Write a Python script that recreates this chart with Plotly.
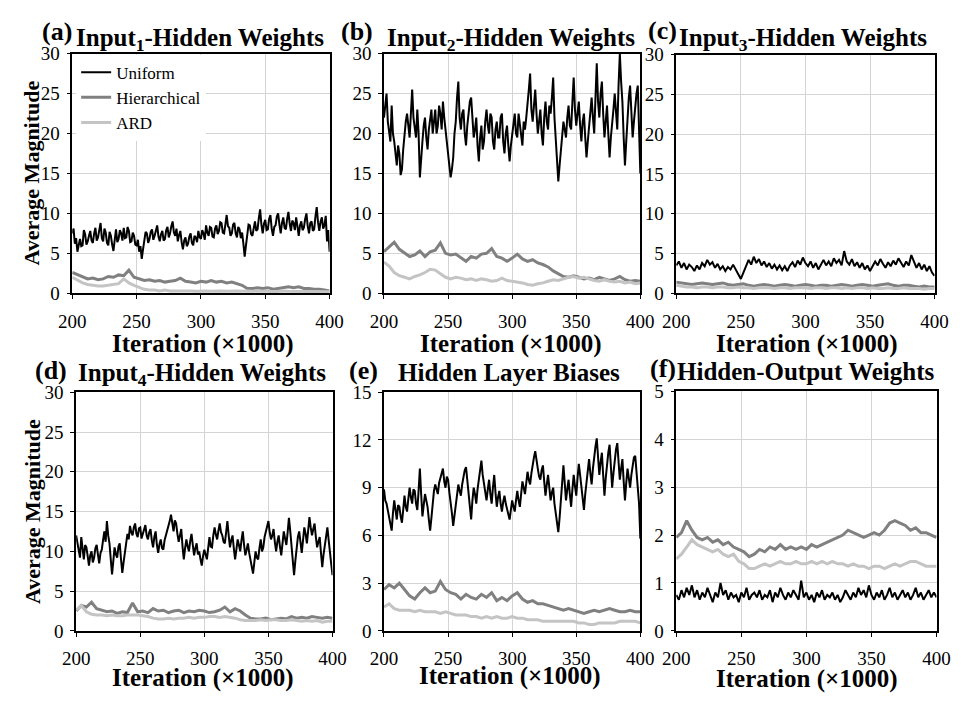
import plotly.graph_objects as go

# ---------------- data ----------------
iter_1k = list(range(200, 401, 1))       # iteration (x1000), dense Uniform series
iter_2k = list(range(200, 401, 2))       # iteration (x1000)
iter_4k = list(range(200, 401, 4))       # iteration (x1000), smoother series
x_ticks = [200, 250, 300, 350, 400]
series_names = ["Uniform", "Hierarchical", "ARD"]

a_uniform = [7.5, 8.1, 6.2, 6.9, 5.2, 6.0, 6.8, 5.9, 6.0, 7.9, 7.4, 6.1, 6.5, 7.2, 7.8, 6.6, 6.3, 7.5, 8.2, 6.6,
             7.0, 7.9, 8.8, 6.9, 6.5, 8.1, 7.6, 6.3, 6.0, 7.7, 7.2, 6.1, 5.3, 6.7, 8.0, 6.4, 6.8, 7.9, 7.5, 6.6,
             8.2, 6.9, 7.0, 8.3, 7.8, 6.4, 6.5, 7.6, 7.2, 6.1, 6.0, 6.7, 5.2, 5.9, 4.3, 5.5, 6.5, 7.7, 7.5, 6.3,
             6.8, 7.7, 8.0, 6.7, 7.2, 8.0, 8.5, 7.1, 6.5, 7.4, 7.8, 6.6, 6.8, 7.9, 8.3, 7.0, 7.5, 8.4, 9.0, 7.6,
             7.2, 8.1, 6.5, 7.3, 7.8, 6.4, 5.5, 6.6, 7.0, 5.9, 6.2, 7.1, 7.5, 6.3, 6.0, 7.2, 7.0, 6.4, 7.8, 7.0,
             6.8, 7.9, 7.5, 6.7, 8.5, 7.6, 7.2, 8.3, 8.2, 7.1, 7.0, 8.1, 8.5, 7.4, 7.8, 8.9, 8.8, 7.6, 7.5, 8.6,
             9.8, 8.4, 8.2, 7.2, 7.5, 8.6, 8.8, 7.5, 7.0, 8.3, 8.0, 6.9, 7.6, 6.2, 4.6, 6.0, 7.5, 8.6, 8.5, 7.4,
             7.2, 8.4, 9.0, 7.8, 8.0, 9.4, 10.5, 8.6, 7.5, 8.7, 9.2, 7.9, 8.0, 9.3, 9.8, 8.1, 7.2, 8.3, 8.5, 9.6,
             10.0, 8.6, 7.5, 8.8, 9.5, 8.2, 8.0, 9.3, 10.2, 8.7, 7.8, 9.1, 8.8, 7.9, 9.5, 8.4, 7.2, 8.5, 9.0, 7.9,
             8.2, 9.3, 10.0, 8.4, 7.5, 8.8, 9.0, 7.8, 8.0, 9.6, 10.8, 8.9, 7.8, 9.0, 9.5, 8.1, 8.5, 9.7, 6.5, 7.9,
             5.2]
a_hier = [2.6, 2.3, 2.0, 1.8, 1.9, 1.7, 1.8, 2.1, 2.0, 2.3,
          2.2, 2.9, 2.0, 1.8, 1.6, 1.7, 1.5, 1.6, 1.4, 1.5,
          1.6, 1.9, 1.5, 1.4, 1.3, 1.5, 1.4, 1.6, 1.4, 1.5,
          1.3, 1.4, 1.2, 1.0, 0.6, 0.6, 0.7, 0.6, 0.7, 0.5,
          0.6, 0.7, 0.8, 0.7, 0.8, 0.6, 0.6, 0.5, 0.5, 0.4, 0.3]
a_ard = [2.0, 1.6, 1.3, 1.1, 1.0, 0.9, 0.9, 1.0, 1.1, 1.2,
         1.8, 1.3, 1.0, 0.7, 0.5, 0.4, 0.4, 0.3, 0.4, 0.3,
         0.3, 0.35, 0.3, 0.3, 0.25, 0.3, 0.3, 0.25, 0.3, 0.3,
         0.25, 0.3, 0.3, 0.25, 0.3, 0.25, 0.25, 0.3, 0.25, 0.2,
         0.25, 0.3, 0.25, 0.25, 0.2, 0.25, 0.2, 0.2, 0.25, 0.2, 0.2]

b_uniform = [22.0, 24.0, 25.0, 21.5, 20.5, 19.0, 23.5, 20.0, 19.0, 17.5, 16.0, 18.5, 17.5, 14.8, 15.5, 18.0, 20.0, 21.5, 22.5, 20.5,
             19.5, 22.5, 25.5, 22.0, 21.0, 19.5, 23.0, 20.0, 14.5, 17.5, 19.0, 21.0, 22.0, 19.5, 18.0, 20.5, 21.5, 23.0, 20.0, 21.5,
             23.0, 20.0, 21.0, 23.5, 22.5, 20.5, 24.0, 22.0, 20.5, 19.0, 18.0, 16.0, 14.5, 15.5, 17.0, 20.0, 21.5, 24.5, 26.5, 22.0,
             20.5, 22.5, 23.0, 20.0, 18.5, 21.0, 22.5, 24.0, 24.5, 21.0, 19.5, 20.5, 22.0, 18.5, 16.5, 19.5, 21.0, 18.0, 19.0, 21.5,
             23.0, 21.0, 20.0, 22.5, 22.0, 19.0, 18.0, 20.5, 21.5, 19.5, 19.5, 22.0, 22.5, 19.0, 17.5, 20.0, 21.0, 18.5, 16.5, 18.5,
             20.0, 21.5, 22.5, 20.0, 19.5, 22.5, 21.0, 19.5, 18.5, 21.5, 20.5, 22.0, 23.5, 25.5, 27.5, 23.0, 21.5, 24.0, 25.5, 22.5,
             20.0, 21.5, 23.0, 20.0, 18.5, 22.0, 24.0, 21.5, 20.5, 23.5, 22.5, 24.5, 27.0, 22.0, 19.5, 16.5, 14.0, 16.0, 18.0, 20.0,
             21.5, 20.5, 19.5, 22.0, 23.5, 21.0, 20.5, 24.0, 27.0, 23.0, 21.0, 22.5, 24.0, 21.0, 19.0, 21.5, 22.5, 19.5, 17.0, 19.0,
             21.0, 23.0, 24.5, 22.0, 20.0, 24.5, 28.8, 24.0, 22.0, 25.0, 26.5, 22.5, 19.5, 21.5, 23.5, 20.0, 17.0, 19.5, 21.0, 23.0,
             25.0, 22.5, 20.5, 26.0, 30.0, 26.5, 24.0, 19.5, 16.0, 19.0, 22.0, 24.5, 26.0, 22.0, 19.5, 21.5, 23.5, 25.0, 26.0, 21.0,
             15.0]
b_hier = [5.2, 5.8, 6.4, 5.5, 5.0, 4.6, 4.8, 5.3, 4.6, 5.2,
          5.4, 6.3, 5.0, 4.8, 4.9, 4.5, 4.0, 4.6, 4.4, 4.9,
          5.0, 5.6, 4.6, 4.4, 4.0, 4.4, 4.9, 4.3, 4.0, 4.2,
          3.8, 3.6, 3.3, 2.8, 2.4, 2.1, 2.0, 2.2, 2.0, 1.8,
          1.9, 1.7, 2.0, 1.8, 1.6, 1.8, 2.1, 1.7, 1.5, 1.6, 1.5]
b_ard = [3.9, 3.4, 2.6, 2.2, 2.0, 1.8, 2.1, 2.3, 2.6, 3.0,
         2.9, 2.4, 2.0, 1.8, 2.0, 1.9, 1.7, 1.8, 1.6, 1.8,
         1.7, 1.5, 1.6, 1.9, 1.6, 1.5, 1.4, 1.3, 1.1, 1.0,
         1.2, 1.3, 1.5, 1.7, 1.6, 1.8, 2.0, 2.1, 1.9, 2.0,
         1.8, 1.6, 1.5, 1.7, 1.5, 1.4, 1.5, 1.3, 1.4, 1.2, 1.3]

c_uniform = [3.5, 4.0, 3.2, 3.8, 3.0, 3.6, 3.3, 2.8, 3.5, 3.0, 3.8,
             3.4, 4.2, 3.6, 3.9, 3.2, 3.7, 3.0, 3.4, 2.8, 3.3,
             3.0, 3.6, 2.9, 2.4, 1.8, 2.6, 3.4, 4.2, 3.6, 4.6,
             3.8, 4.3, 3.5, 4.0, 3.3, 3.8, 3.1, 3.6, 3.0, 3.5,
             2.9, 3.4, 2.8, 3.5, 3.9, 3.3, 4.1, 3.6, 4.5, 3.8,
             3.4, 4.0, 3.2, 3.8, 3.0, 3.6, 4.2, 3.5, 4.0, 3.4,
             4.4, 3.8, 4.2, 3.5, 5.3, 4.0, 3.6, 4.3, 3.4, 3.9,
             3.2, 3.8, 3.0, 3.5, 2.8, 3.4, 4.0, 3.5, 4.3, 3.7,
             3.2, 3.9, 3.4, 4.1, 3.6, 4.4, 3.8, 3.3, 4.0, 3.5,
             4.8, 3.9, 3.2, 3.8, 3.0, 3.6, 2.8, 3.4, 2.6, 2.2]
c_hier = [1.4, 1.3, 1.2, 1.1, 1.2, 1.3, 1.2, 1.1, 1.2, 1.3,
          1.1, 1.0, 1.1, 1.2, 1.0, 0.9, 1.0, 1.1, 1.0, 0.9,
          1.0, 1.1, 1.0, 0.9, 1.0, 1.1, 1.0, 0.9, 1.0, 1.0,
          0.9, 1.0, 1.1, 1.0, 0.9, 1.0, 1.1, 1.0, 0.9, 1.0,
          1.1, 1.2, 1.0, 0.9, 1.0, 1.0, 0.9, 0.8, 0.9, 0.8, 0.8]
c_ard = [1.0, 0.9, 0.8, 0.8, 0.7, 0.8, 0.8, 0.7, 0.8, 0.8,
         0.7, 0.7, 0.8, 0.7, 0.7, 0.6, 0.7, 0.7, 0.7, 0.6,
         0.7, 0.7, 0.6, 0.7, 0.7, 0.7, 0.6, 0.7, 0.7, 0.6,
         0.7, 0.7, 0.6, 0.7, 0.6, 0.7, 0.7, 0.6, 0.7, 0.6,
         0.6, 0.7, 0.6, 0.6, 0.7, 0.6, 0.6, 0.6, 0.5, 0.6, 0.6]

d_uniform = [12.0, 11.0, 10.5, 9.2, 11.8, 10.0, 9.0, 10.8, 10.5, 9.4, 8.2, 9.5, 10.0, 8.6, 9.2, 10.4, 10.8, 9.6, 8.5, 9.8,
             10.2, 11.4, 12.5, 11.2, 13.8, 12.0, 11.0, 9.0, 7.1, 8.8, 10.5, 9.6, 9.2, 10.6, 11.0, 9.0, 7.3, 8.6, 10.0, 11.5,
             12.2, 11.5, 13.2, 12.4, 12.0, 13.0, 13.5, 12.2, 11.8, 12.9, 13.0, 11.6, 12.2, 12.8, 13.3, 12.0, 11.5, 12.4, 12.8, 11.4,
             10.5, 11.8, 12.5, 10.8, 9.8, 10.9, 11.5, 10.4, 10.2, 11.4, 12.0, 12.6, 13.0, 13.8, 14.6, 13.2, 12.5, 13.9, 13.5, 12.2,
             11.2, 12.0, 12.8, 10.6, 9.0, 10.4, 11.5, 10.6, 10.0, 11.3, 12.2, 10.8, 9.5, 10.4, 11.0, 9.6, 10.0, 9.0, 8.2, 9.4,
             10.2, 9.6, 9.0, 10.4, 11.8, 10.6, 10.5, 12.0, 13.0, 12.1, 11.5, 12.6, 13.5, 12.4, 12.0, 11.2, 11.0, 12.4, 13.8, 12.0,
             10.5, 11.4, 12.0, 10.4, 9.0, 10.2, 11.5, 10.8, 10.0, 11.4, 12.5, 10.8, 9.5, 10.2, 11.0, 9.8, 8.8, 8.0, 7.2, 8.6,
             10.0, 9.2, 9.0, 10.4, 11.5, 10.0, 10.5, 11.8, 12.5, 13.2, 13.8, 12.4, 11.5, 12.0, 12.8, 11.2, 10.0, 11.2, 12.0, 10.6,
             9.5, 11.0, 12.5, 11.6, 10.8, 12.4, 14.2, 12.6, 11.0, 9.0, 7.0, 8.8, 10.5, 11.8, 12.5, 11.0, 9.8, 11.4, 13.0, 12.2,
             11.0, 12.6, 14.3, 13.0, 12.0, 12.8, 13.5, 11.8, 10.5, 11.2, 11.8, 9.8, 8.0, 9.6, 11.0, 12.2, 13.0, 11.4, 9.5, 8.4,
             7.0]
d_hier = [2.5, 3.2, 3.0, 3.6, 2.8, 2.6, 2.4, 2.5, 2.2, 2.4,
          2.3, 3.5, 2.4, 2.5, 2.3, 2.8, 2.5, 2.6, 2.3, 2.5,
          2.6, 2.3, 2.5, 2.4, 2.6, 2.5, 2.3, 2.4, 2.6, 3.0,
          2.4, 2.8, 2.5, 2.0, 1.6, 1.5, 1.5, 1.6, 1.4, 1.5,
          1.6, 1.5, 1.8, 1.6, 1.7, 1.6, 1.8, 1.7, 1.6, 1.7, 1.6]
d_ard = [2.6, 3.2, 2.4, 2.1, 2.0, 2.0, 1.9, 2.0, 1.9, 1.9,
         2.0, 2.0, 2.0, 1.9, 1.8, 1.6, 1.5, 1.5, 1.6, 1.5,
         1.6, 1.6, 1.7, 1.6, 1.7, 1.7, 1.8, 1.8, 1.7, 1.8,
         1.7, 1.6, 1.4, 1.3, 1.3, 1.3, 1.4, 1.3, 1.4, 1.4,
         1.3, 1.3, 1.4, 1.3, 1.2, 1.3, 1.2, 1.3, 1.1, 1.2, 1.2]

e_uniform = [8.9, 8.2, 8.0, 7.6, 7.2, 6.8, 6.3, 7.4, 8.2, 7.6, 7.0, 7.9, 7.8, 7.2, 6.8, 7.6, 8.5, 7.8, 7.5, 8.3,
             9.0, 8.4, 8.0, 8.9, 8.8, 8.0, 7.6, 8.8, 10.2, 8.6, 7.2, 7.9, 8.6, 8.2, 7.8, 7.0, 6.3, 7.1, 8.0, 8.8,
             9.2, 8.8, 8.6, 9.3, 9.6, 9.8, 10.2, 9.4, 9.0, 9.7, 9.5, 8.7, 8.2, 7.4, 6.6, 7.3, 8.0, 8.7, 9.2, 8.8,
             8.5, 9.2, 9.8, 10.1, 10.3, 9.5, 8.8, 7.8, 7.0, 8.2, 9.0, 8.6, 8.0, 8.9, 9.6, 10.2, 10.7, 9.8, 9.2, 8.6,
             8.2, 8.9, 9.5, 8.6, 8.0, 9.0, 9.8, 8.7, 7.8, 8.4, 8.8, 8.0, 7.5, 8.1, 8.5, 8.0, 7.6, 7.2, 7.0, 7.6,
             8.2, 7.8, 7.5, 8.2, 8.8, 8.2, 7.8, 8.6, 9.4, 9.0, 8.6, 9.3, 10.0, 9.5, 9.2, 9.9, 10.5, 10.9, 11.3, 10.6,
             10.2, 9.7, 9.5, 10.1, 10.4, 9.4, 8.5, 9.2, 9.8, 9.0, 8.2, 8.7, 9.0, 8.0, 7.4, 6.8, 6.2, 7.1, 8.0, 9.3,
             10.4, 9.2, 8.2, 8.9, 9.5, 8.6, 7.8, 8.9, 9.8, 9.1, 8.5, 9.6, 10.5, 9.8, 9.0, 8.2, 7.6, 8.6, 9.5, 10.2,
             10.8, 9.9, 9.2, 10.2, 11.0, 11.6, 12.1, 10.8, 9.8, 10.6, 11.2, 9.8, 8.5, 9.6, 10.5, 11.2, 11.7, 10.4, 9.0, 9.9,
             10.8, 11.4, 11.8, 10.6, 9.5, 10.2, 10.8, 9.4, 8.2, 9.3, 10.2, 9.6, 9.0, 9.8, 10.5, 10.9, 11.0, 10.1, 9.2, 8.0,
             5.8]
e_hier = [2.6, 2.9, 2.7, 3.0, 2.6, 2.2, 2.0, 2.4, 2.7, 2.4,
          2.5, 3.1, 2.6, 2.4, 2.3, 2.0, 2.3, 2.1, 2.0, 2.3,
          2.1, 2.4, 1.9, 2.1, 1.9, 2.2, 2.4, 2.0, 1.8, 1.9,
          1.7, 1.7, 1.6, 1.5, 1.4, 1.3, 1.4, 1.3, 1.2, 1.1,
          1.2, 1.3, 1.2, 1.3, 1.4, 1.3, 1.2, 1.2, 1.3, 1.2, 1.2]
e_ard = [1.5, 1.7, 1.4, 1.3, 1.3, 1.3, 1.2, 1.3, 1.2, 1.2,
         1.2, 1.1, 1.2, 1.1, 1.0, 1.0, 1.0, 0.9, 0.9, 0.8,
         0.9, 0.8, 0.9, 0.8, 0.8, 0.9, 0.8, 0.8, 0.7, 0.7,
         0.7, 0.6, 0.6, 0.6, 0.6, 0.6, 0.6, 0.6, 0.5, 0.5,
         0.4, 0.4, 0.5, 0.5, 0.5, 0.5, 0.6, 0.6, 0.6, 0.6, 0.5]

f_uniform = [0.75, 0.65, 0.85, 0.7, 0.9, 0.75, 0.95, 0.7, 0.85, 0.65, 0.8,
             0.7, 0.9, 0.75, 0.6, 0.8, 0.7, 1.0, 0.75, 0.85, 0.65,
             0.8, 0.7, 0.75, 0.6, 0.8, 0.7, 0.9, 0.65, 0.75, 0.8,
             0.7, 0.85, 0.65, 0.75, 0.7, 0.85, 0.6, 0.8, 0.7, 0.9,
             0.75, 0.65, 0.8, 0.7, 0.85, 0.75, 0.65, 1.05, 0.7, 0.8,
             0.65, 0.75, 0.6, 0.8, 0.7, 0.85, 0.65, 0.75, 0.7, 0.8,
             0.65, 0.75, 0.6, 0.7, 0.85, 0.75, 0.65, 0.8, 0.7, 0.9,
             0.75, 0.85, 0.7, 0.95, 0.75, 0.65, 0.8, 0.7, 0.85, 0.65,
             0.75, 0.9, 0.7, 0.8, 0.65, 0.75, 0.85, 0.7, 0.8, 0.65,
             0.75, 0.9, 0.7, 0.8, 0.65, 0.75, 0.85, 0.7, 0.8, 0.7]
f_hier = [1.95, 2.05, 2.3, 2.1, 1.95, 1.9, 1.95, 1.85, 1.9, 1.8,
          1.85, 1.75, 1.7, 1.65, 1.55, 1.6, 1.7, 1.65, 1.75, 1.7,
          1.8, 1.7, 1.75, 1.7, 1.75, 1.7, 1.8, 1.75, 1.8, 1.85,
          1.9, 1.95, 2.0, 2.1, 2.05, 2.0, 1.95, 2.0, 2.05, 2.0,
          2.1, 2.25, 2.3, 2.25, 2.2, 2.1, 2.15, 2.05, 2.05, 2.0, 1.95]
f_ard = [1.5, 1.6, 1.75, 1.9, 1.8, 1.75, 1.7, 1.65, 1.7, 1.6,
         1.55, 1.6, 1.45, 1.4, 1.3, 1.3, 1.35, 1.4, 1.35, 1.4,
         1.45, 1.4, 1.4, 1.45, 1.4, 1.4, 1.45, 1.4, 1.45, 1.4,
         1.45, 1.4, 1.4, 1.35, 1.4, 1.35, 1.35, 1.3, 1.35, 1.35,
         1.3, 1.35, 1.4, 1.35, 1.4, 1.45, 1.45, 1.4, 1.35, 1.35, 1.35]

panel_letters = ["(a)", "(b)", "(c)", "(d)", "(e)", "(f)"]
panel_titles = ["Input<sub>1</sub>-Hidden Weights", "Input<sub>2</sub>-Hidden Weights",
                "Input<sub>3</sub>-Hidden Weights", "Input<sub>4</sub>-Hidden Weights",
                "Hidden Layer Biases", "Hidden-Output Weights"]
y_maxes = [30, 30, 30, 30, 15, 5]
y_tick_sets = [[0, 5, 10, 15, 20, 25, 30]] * 4 + [[0, 3, 6, 9, 12, 15], [0, 1, 2, 3, 4, 5]]
x_title = "Iteration (×1000)"
y_title = "Average Magnitude"

# ---------------- styling / layout ----------------
W, H = 968, 703
FONT = "Liberation Serif"
colors = ["#000000", "#808080", "#c4c4c4"]
widths = [2.0, 3.0, 3.0]


def px(x):  # pixel -> paper x
    return x / W


def py(y):  # pixel (from top) -> paper y
    return 1 - y / H


# plot-area pixel boxes: (x0, x1), (ytop, ybottom)
boxes = [((60, 325), (45, 292)), ((381, 645), (45, 292)), ((682, 948), (46, 292)),
         ((64, 328), (394, 640)), ((381, 645), (394, 640)), ((682, 950), (393, 640))]
letter_pos = [(44, 22), (353, 22), (668, 21), (38, 372), (360, 372), (668, 370)]
title_pos = [(192, 30), (512, 30), (812, 30), (194, 376), (510, 374), (816, 373)]
xtitle_pos = [(195, 344), (512, 344), (817, 344), (195, 689), (511, 686), (817, 690)]
ytitle_pos = [(19, 168), (19, 517)]

data = [(a_uniform, a_hier, a_ard), (b_uniform, b_hier, b_ard), (c_uniform, c_hier, c_ard),
        (d_uniform, d_hier, d_ard), (e_uniform, e_hier, e_ard), (f_uniform, f_hier, f_ard)]
x_for_uniform = [iter_1k, iter_1k, iter_2k, iter_1k, iter_1k, iter_2k]

for i, trip in enumerate(data):
    assert len(trip[0]) == len(x_for_uniform[i]), (i, len(trip[0]))
    assert len(trip[1]) == len(iter_4k), (i, len(trip[1]))
    assert len(trip[2]) == len(iter_4k), (i, len(trip[2]))

fig = go.Figure()
layout = dict(
    width=W, height=H, autosize=False,
    margin=dict(l=0, r=0, t=0, b=0),
    paper_bgcolor="white", plot_bgcolor="white",
    font=dict(family=FONT, color="black"),
    showlegend=True,
    legend=dict(x=px(64), y=py(46), xanchor="left", yanchor="top",
                bgcolor="white", borderwidth=0, itemwidth=30,
                font=dict(family=FONT, size=17, color="black"),
                tracegroupgap=0),
)

annotations = []
for i in range(6):
    n = "" if i == 0 else str(i + 1)
    (x0, x1), (yt, yb) = boxes[i]
    axis_common = dict(showline=True, linecolor="black", linewidth=1.5, mirror=True,
                       showgrid=True, gridcolor="#d4d4d4", gridwidth=1, zeroline=False,
                       ticks="outside", ticklen=4, tickcolor="black", tickwidth=1,
                       tickfont=dict(family=FONT, size=19, color="black"))
    layout["xaxis" + n] = dict(domain=[px(x0), px(x1)], anchor="y" + n, range=[200, 400],
                               tickvals=x_ticks, ticklabelstandoff=6, **axis_common)
    layout["yaxis" + n] = dict(domain=[py(yb), py(yt)], anchor="x" + n, range=[0, y_maxes[i]],
                               tickvals=y_tick_sets[i], ticklabelstandoff=3, **axis_common)
    xs = [x_for_uniform[i], iter_4k, iter_4k]
    for k in range(3):
        fig.add_trace(go.Scatter(x=xs[k], y=data[i][k], mode="lines", name=series_names[k],
                                 line=dict(color=colors[k], width=widths[k]),
                                 xaxis="x" + n, yaxis="y" + n,
                                 showlegend=(i == 0), legendgroup=series_names[k]))
    annotations.append(dict(text="<b>" + panel_letters[i] + "</b>", x=px(letter_pos[i][0]),
                            y=py(letter_pos[i][1]), xref="paper", yref="paper",
                            xanchor="center", yanchor="middle", showarrow=False,
                            font=dict(family=FONT, size=26, color="black")))
    annotations.append(dict(text="<b>" + panel_titles[i] + "</b>", x=px(title_pos[i][0]),
                            y=py(title_pos[i][1]), xref="paper", yref="paper",
                            xanchor="center", yanchor="middle", showarrow=False,
                            font=dict(family=FONT, size=25, color="black")))
    annotations.append(dict(text="<b>" + x_title + "</b>", x=px(xtitle_pos[i][0]),
                            y=py(xtitle_pos[i][1]), xref="paper", yref="paper",
                            xanchor="center", yanchor="middle", showarrow=False,
                            font=dict(family=FONT, size=25, color="black")))

for (xx, yy) in ytitle_pos:
    annotations.append(dict(text="<b>" + y_title + "</b>", x=px(xx), y=py(yy),
                            xref="paper", yref="paper", textangle=-90,
                            xanchor="center", yanchor="middle", showarrow=False,
                            font=dict(family=FONT, size=22, color="black")))

layout["annotations"] = annotations
fig.update_layout(**layout)
fig.write_html("out.html")
